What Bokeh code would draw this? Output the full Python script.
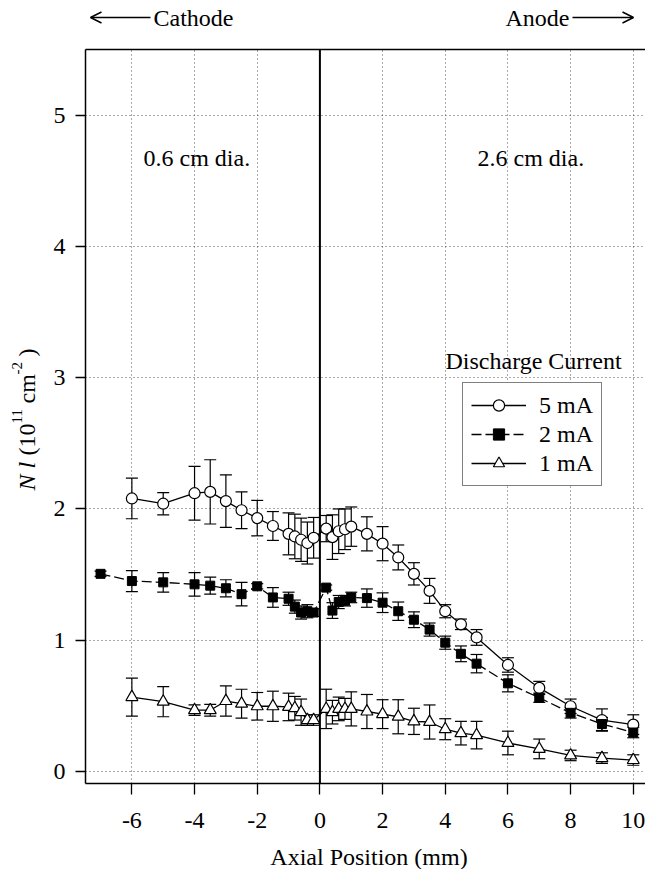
import math
from bokeh.plotting import figure
from bokeh.layouts import column, row
from bokeh.models import (ColumnDataSource, Whisker, TeeHead, Legend, LegendItem, Label,
                          Arrow, OpenHead, Span, FixedTicker, LinearAxis, Range1d)
from bokeh.embed import file_html
from bokeh.resources import INLINE

# ---------------- data ----------------
x_5ma = [-6, -5, -4, -3.5, -3, -2.5, -2, -1.5, -1, -0.8, -0.6, -0.4, -0.2, 0.2, 0.4, 0.6, 0.8, 1.0,
         1.5, 2, 2.5, 3, 3.5, 4, 4.5, 5, 6, 7, 8, 9, 10]
y_5ma = [2.08, 2.04, 2.12, 2.13, 2.06, 1.99, 1.93, 1.87, 1.81, 1.79, 1.765, 1.74, 1.78, 1.85, 1.785,
         1.83, 1.845, 1.865, 1.81, 1.735, 1.63, 1.505, 1.375, 1.22, 1.12, 1.02, 0.81, 0.635, 0.495,
         0.39, 0.355]
e_5ma = [0.155, 0.085, 0.205, 0.245, 0.2, 0.14, 0.135, 0.11, 0.16, 0.17, 0.165, 0.16, 0.155, 0.10,
         0.17, 0.17, 0.155, 0.15, 0.13, 0.13, 0.095, 0.085, 0.095, 0.05, 0.04, 0.06, 0.055, 0.05,
         0.055, 0.085, 0.075]

x_2ma = [-7, -6, -5, -4, -3.5, -3, -2.5, -2, -1.5, -1, -0.8, -0.6, -0.4, -0.2, 0.2, 0.4, 0.6, 0.8,
         1.0, 1.5, 2, 2.5, 3, 3.5, 4, 4.5, 5, 6, 7, 8, 9, 10]
y_2ma = [1.505, 1.45, 1.44, 1.425, 1.415, 1.395, 1.35, 1.41, 1.325, 1.315, 1.255, 1.21, 1.22, 1.21,
         1.40, 1.225, 1.29, 1.30, 1.325, 1.32, 1.285, 1.22, 1.155, 1.08, 0.98, 0.895, 0.82, 0.67,
         0.56, 0.445, 0.36, 0.295]
e_2ma = [0.02, 0.08, 0.075, 0.09, 0.065, 0.065, 0.09, 0.02, 0.075, 0.05, 0.05, 0.05, 0.05, 0.03,
         0.02, 0.06, 0.05, 0.04, 0.04, 0.07, 0.075, 0.07, 0.06, 0.05, 0.05, 0.06, 0.07, 0.065,
         0.035, 0.04, 0.05, 0.04]

x_1ma = [-6, -5, -4, -3.5, -3, -2.5, -2, -1.5, -1, -0.8, -0.6, -0.4, -0.2, 0.2, 0.4, 0.6, 0.8, 1.0,
         1.5, 2, 2.5, 3, 3.5, 4, 4.5, 5, 6, 7, 8, 9, 10]
y_1ma = [0.565, 0.53, 0.465, 0.465, 0.535, 0.515, 0.495, 0.495, 0.49, 0.48, 0.45, 0.39, 0.39, 0.475,
         0.45, 0.475, 0.475, 0.475, 0.455, 0.435, 0.415, 0.38, 0.375, 0.32, 0.29, 0.275, 0.215,
         0.17, 0.12, 0.10, 0.085]
e_1ma = [0.145, 0.115, 0.04, 0.045, 0.115, 0.11, 0.105, 0.115, 0.105, 0.09, 0.1, 0.04, 0.04, 0.15,
         0.09, 0.09, 0.08, 0.13, 0.13, 0.11, 0.13, 0.1, 0.13, 0.08, 0.09, 0.105, 0.09, 0.075, 0.04,
         0.04, 0.04]

x_ticks = [-6, -4, -2, 0, 2, 4, 6, 8, 10]
y_ticks = [0, 1, 2, 3, 4, 5]
series_labels = ["5 mA", "2 mA", "1 mA"]

FONT = "Liberation Serif"


def strip(w, h):
    f = figure(width=w, height=h, output_backend="svg", toolbar_location=None,
               x_axis_type=None, y_axis_type=None,
               min_border_left=0, min_border_right=0, min_border_top=0, min_border_bottom=0,
               x_range=Range1d(0, 1), y_range=Range1d(0, 1))
    f.outline_line_color = None
    f.background_fill_color = "white"
    f.border_fill_color = "white"
    return f


def lab(fig, text, x, y, size="24px", align="left", angle=0.0, style="normal"):
    fig.add_layout(Label(text=text, x=x, y=y, x_units="screen", y_units="screen",
                         text_font=FONT, text_font_size=size, text_align=align,
                         text_baseline="middle", angle=angle, angle_units="rad",
                         text_color="black", text_font_style=style))


# ---------------- main plot ----------------
p = figure(width=600, height=798, output_backend="svg", toolbar_location=None,
           x_range=Range1d(-7.48, 10.39), y_range=Range1d(-0.094, 5.504),
           min_border_left=40, min_border_right=0, min_border_top=4, min_border_bottom=60)
p.outline_line_color = None
p.background_fill_color = "white"
p.border_fill_color = "white"

for ax in (p.xaxis[0], p.yaxis[0]):
    ax.axis_line_color = "black"
    ax.axis_line_width = 1.5
    ax.major_tick_line_color = "black"
    ax.major_tick_line_width = 1.3
    ax.major_tick_in = 0
    ax.minor_tick_line_color = None
    ax.major_label_text_font = FONT
    ax.major_label_text_font_size = "24px"
    ax.major_label_text_color = "black"
    ax.axis_label = None
p.xaxis[0].ticker = FixedTicker(ticks=x_ticks)
p.xaxis[0].major_label_overrides = {t: str(t) for t in x_ticks}
p.yaxis[0].ticker = FixedTicker(ticks=y_ticks)
p.yaxis[0].major_label_overrides = {t: str(t) for t in y_ticks}
p.xaxis[0].major_tick_out = 11
p.xaxis[0].major_label_standoff = 18
p.yaxis[0].major_tick_out = 10
p.yaxis[0].major_label_standoff = 10

top_axis = LinearAxis(ticker=FixedTicker(ticks=[]), major_label_text_font_size="0px",
                      major_label_standoff=0, major_tick_out=0, major_tick_in=0,
                      axis_line_color="black", axis_line_width=1.5,
                      major_tick_line_color=None, minor_tick_line_color=None)
p.add_layout(top_axis, "above")

for g in (p.xgrid[0], p.ygrid[0]):
    g.grid_line_color = "#555555"
    g.grid_line_dash = "1 3"
    g.grid_line_width = 1
p.xgrid[0].ticker = FixedTicker(ticks=[t for t in x_ticks if t != 0])
p.ygrid[0].ticker = FixedTicker(ticks=y_ticks)

p.add_layout(Span(location=0, dimension="height", line_color="black", line_width=2))


def make_src(xs, ys, es):
    return ColumnDataSource(dict(x=xs, y=ys,
                                 upper=[a + b for a, b in zip(ys, es)],
                                 lower=[a - b for a, b in zip(ys, es)]))


src5 = make_src(x_5ma, y_5ma, e_5ma)
src2 = make_src(x_2ma, y_2ma, e_2ma)
src1 = make_src(x_1ma, y_1ma, e_1ma)

l5 = p.line("x", "y", source=src5, line_color="black", line_width=1.3)
l2 = p.line("x", "y", source=src2, line_color="black", line_width=1.3, line_dash="10 4")
l1 = p.line("x", "y", source=src1, line_color="black", line_width=1.3)

for s in (src5, src2, src1):
    p.add_layout(Whisker(source=s, base="x", upper="upper", lower="lower", line_color="black",
                         line_width=1.2,
                         upper_head=TeeHead(size=12, line_width=1.2, line_color="black"),
                         lower_head=TeeHead(size=12, line_width=1.2, line_color="black")))

m5 = p.scatter("x", "y", source=src5, marker="circle", size=11, fill_color="white",
               line_color="black", line_width=1.2)
m2 = p.scatter("x", "y", source=src2, marker="square", size=9, fill_color="black",
               line_color="black", line_width=1)
m1 = p.scatter("x", "y", source=src1, marker="triangle", size=12, fill_color="white",
               line_color="black", line_width=1.2)

legend = Legend(items=[LegendItem(label=series_labels[0], renderers=[l5, m5]),
                       LegendItem(label=series_labels[1], renderers=[l2, m2]),
                       LegendItem(label=series_labels[2], renderers=[l1, m1])],
                location=(377, 297), orientation="vertical",
                padding=8, margin=0, spacing=1, glyph_width=55, glyph_height=28,
                label_height=28, label_standoff=13,
                label_text_font=FONT, label_text_font_size="24px", label_text_color="black",
                border_line_color="black", border_line_width=1.5,
                background_fill_color="white", background_fill_alpha=1.0)
p.add_layout(legend)

# texts inside the frame (frame origin at page (85, 783))
lab(p, "0.6 cm dia.", 58, 626)
lab(p, "2.6 cm dia.", 392, 626)
lab(p, "Discharge Current", 360, 423)

# ---------------- top strip: electrode directions ----------------
top = strip(645, 45)
lab(top, "Cathode", 153, 28)
lab(top, "Anode", 505, 28)
top.add_layout(Arrow(x_start=150, y_start=28, x_end=90, y_end=28,
                     start_units="screen", end_units="screen",
                     line_color="black", line_width=1.5,
                     end=OpenHead(size=11, line_width=1.5, line_color="black")))
top.add_layout(Arrow(x_start=572, y_start=28, x_end=633, y_end=28,
                     start_units="screen", end_units="screen",
                     line_color="black", line_width=1.5,
                     end=OpenHead(size=11, line_width=1.5, line_color="black")))

# ---------------- left strip: y-axis title (its frame is aligned with the main frame) ----------------
left = strip(45, 798)
R = math.pi / 2
lab(left, "N l", 26, 293, angle=R, style="italic")
lab(left, "(10", 26, 328, angle=R)
lab(left, "11", 16, 360, size="15px", angle=R)
lab(left, "cm", 26, 380, angle=R)
lab(left, "-2", 16, 409, size="15px", angle=R)
lab(left, ")", 26, 427, angle=R)

# ---------------- bottom strip: x-axis title ----------------
bottom = strip(645, 26)
lab(bottom, "Axial Position (mm)", 368.5, 13, align="center")

layout = column(top, row(left, p), bottom)
open("out.html", "w").write(file_html(layout, INLINE))
